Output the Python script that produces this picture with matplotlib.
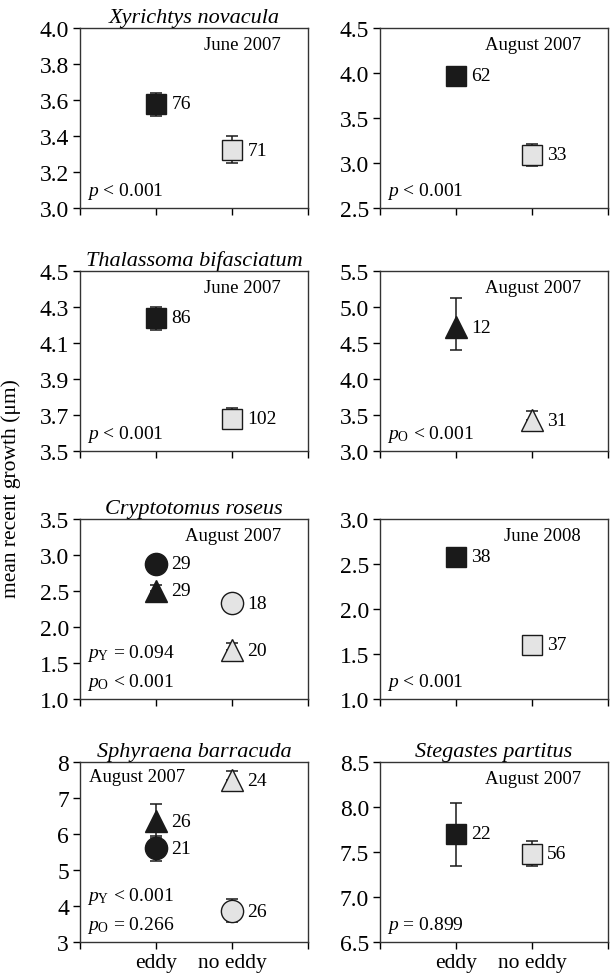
import matplotlib
matplotlib.use("Agg")
import matplotlib.pyplot as plt

plt.rcParams['font.family'] = ['Liberation Serif', 'DejaVu Serif']
plt.rcParams['mathtext.fontset'] = 'custom'
plt.rcParams['mathtext.rm'] = 'Liberation Serif'
plt.rcParams['mathtext.it'] = 'Liberation Serif:italic'

# ------------------------------------------------------------
# data
# ------------------------------------------------------------
titles = ['Xyrichtys novacula', None, 'Thalassoma bifasciatum', None,
          'Cryptotomus roseus', None, 'Sphyraena barracuda', 'Stegastes partitus']
dates = ['June 2007', 'August 2007', 'June 2007', 'August 2007',
         'August 2007', 'June 2008', 'August 2007', 'August 2007']
ylims = [(3.0, 4.0), (2.5, 4.5), (3.5, 4.5), (3.0, 5.5),
         (1.0, 3.5), (1.0, 3.0), (3, 8), (6.5, 8.5)]
ysteps = [0.2, 0.5, 0.2, 0.5, 0.5, 0.5, 1.0, 0.5]
yfmt = ['%.1f', '%.1f', '%.1f', '%.1f', '%.1f', '%.1f', '%d', '%.1f']
ptexts = [[r'$p$ < 0.001'], [r'$p$ < 0.001'], [r'$p$ < 0.001'],
          [r'$p_{\mathrm{O}}$ < 0.001'],
          [r'$p_{\mathrm{Y}}$ = 0.094', r'$p_{\mathrm{O}}$ < 0.001'],
          [r'$p$ < 0.001'],
          [r'$p_{\mathrm{Y}}$ < 0.001', r'$p_{\mathrm{O}}$ = 0.266'],
          [r'$p$ = 0.899']]

# each point: (panel, site 1=eddy 2=no eddy, marker, mean, lower, upper, n)
pts_panel = [0, 0, 1, 1, 2, 2, 3, 3, 4, 4, 4, 4, 5, 5, 6, 6, 6, 6, 7, 7]
pts_site = [1, 2, 1, 2, 1, 2, 1, 2, 1, 1, 2, 2, 1, 2, 1, 1, 2, 2, 1, 2]
pts_marker = ['s', 's', 's', 's', 's', 's', '^', '^', 'o', '^', 'o', '^',
              's', 's', '^', 'o', '^', 'o', 's', 's']
pts_mean = [3.58, 3.32, 3.97, 3.09, 4.24, 3.68, 4.72, 3.43, 2.88, 2.50, 2.33, 1.68,
            2.58, 1.60, 6.35, 5.60, 7.50, 3.85, 7.70, 7.48]
pts_low = [3.51, 3.25, 3.94, 2.97, 4.17, 3.63, 4.40, 3.43, 2.88, 2.50, 2.33, 1.68,
           2.58, 1.60, 5.90, 5.25, 7.50, 3.55, 7.35, 7.35]
pts_high = [3.64, 3.40, 4.00, 3.21, 4.30, 3.74, 5.12, 3.56, 2.88, 2.58, 2.33, 1.78,
            2.58, 1.60, 6.82, 5.95, 7.75, 4.20, 8.05, 7.62]
pts_n = [76, 71, 62, 33, 86, 102, 12, 31, 29, 29, 18, 20, 38, 37, 26, 21, 24, 26, 22, 56]

site_colors = {1: '#1a1a1a', 2: '#e4e4e4'}

# ------------------------------------------------------------
# layout
# ------------------------------------------------------------
fig = plt.figure(figsize=(6.10, 9.78), dpi=100)
col_left = [80 / 610, 380 / 610]
row_bottom = [1 - 209 / 978, 1 - 452 / 978, 1 - 700 / 978, 1 - 943 / 978]
w, h = 228 / 610, 180 / 978

axes = []
for i in range(8):
    r, c = divmod(i, 2)
    ax = fig.add_axes([col_left[c], row_bottom[r], w, h])
    axes.append(ax)

for i, ax in enumerate(axes):
    lo, hi = ylims[i]
    ax.set_xlim(0, 3)
    ax.set_ylim(lo, hi)
    n_ticks = int(round((hi - lo) / ysteps[i])) + 1
    ticks = [lo + k * ysteps[i] for k in range(n_ticks)]
    ax.set_yticks(ticks)
    ax.set_yticklabels([yfmt[i] % t for t in ticks])
    ax.set_xticks([0, 1, 2, 3])
    if i >= 6:
        ax.set_xticklabels(['', 'eddy', 'no eddy', ''])
    else:
        ax.set_xticklabels(['', '', '', ''])
    ax.tick_params(direction='out', length=5, width=1,
                   top=False, right=False, pad=3)
    ax.tick_params(axis='y', labelsize=17)
    ax.tick_params(axis='x', labelsize=15.5)
    for s in ax.spines.values():
        s.set_linewidth(1.0)
        s.set_color('#333333')
    if titles[i]:
        ax.set_title(titles[i], fontstyle='italic', fontsize=16, pad=4)
    if i == 6:
        ax.text(0.04, 0.92, dates[i], transform=ax.transAxes, fontsize=13.5,
                ha='left', va='center')
    else:
        ax.text(0.88, 0.91, dates[i], transform=ax.transAxes, fontsize=13.5,
                ha='right', va='center')
    lines = ptexts[i]
    for k, t in enumerate(lines):
        y = 0.04 + 0.16 * (len(lines) - 1 - k)
        ax.text(0.03, y, t, transform=ax.transAxes, fontsize=14,
                ha='left', va='bottom')

for j in range(len(pts_mean)):
    ax = axes[pts_panel[j]]
    x = pts_site[j]
    m = pts_mean[j]
    ax.errorbar(x, m, yerr=[[m - pts_low[j]], [pts_high[j] - m]], fmt='none',
                ecolor='#1a1a1a', elinewidth=1.1, capsize=4.5, capthick=1.1, zorder=2)
    ms = 15 if pts_marker[j] == 's' else 16
    ax.plot(x, m, marker=pts_marker[j], markersize=ms, color=site_colors[pts_site[j]],
            markeredgecolor='#1a1a1a', markeredgewidth=1.0, linestyle='none', zorder=3)
    ax.annotate(str(pts_n[j]), (x, m), xytext=(11, 0), textcoords='offset points',
                fontsize=14, ha='left', va='center')

fig.text(0.018, 0.5, 'mean recent growth (μm)', rotation=90, fontsize=15.5,
         ha='center', va='center')

fig.savefig('out.png', dpi=100)
